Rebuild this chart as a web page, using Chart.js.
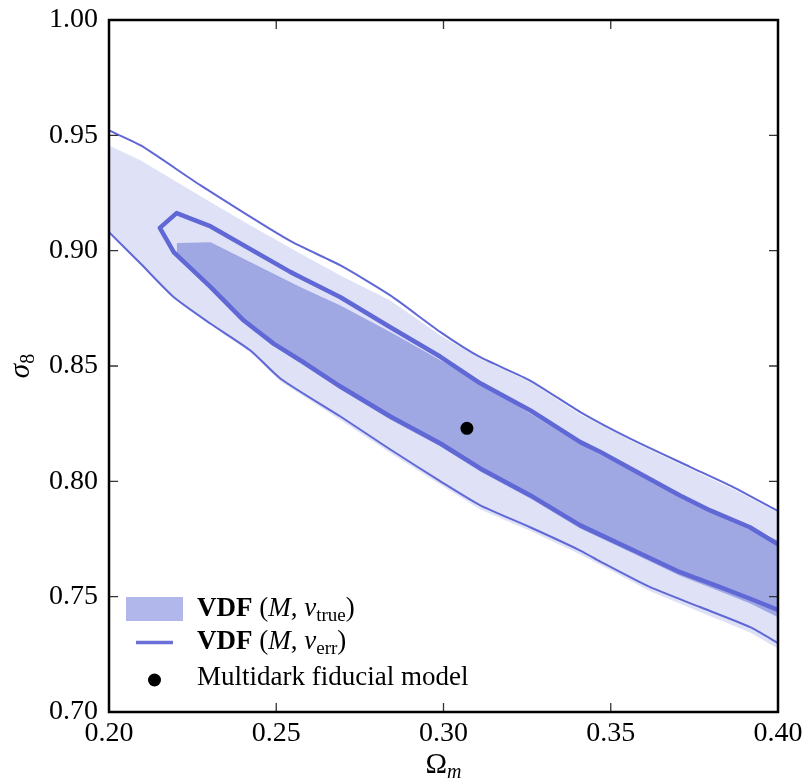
<!DOCTYPE html>
<html>
<head>
<meta charset="utf-8">
<title>sigma8 - Omega_m contours</title>
<script src="https://cdn.jsdelivr.net/npm/chart.js@4.4.0/dist/chart.umd.min.js"></script>
<style>
  html, body { margin: 0; padding: 0; background: #fff; }
  #wrap { width: 806px; height: 782px; }
</style>
</head>
<body>
<div id="wrap"><canvas id="contourChart" width="806" height="782"></canvas></div>
<script>
// Axis ticks
const xTickValues = [0.20, 0.25, 0.30, 0.35, 0.40];
const xTickLabels = ['0.20', '0.25', '0.30', '0.35', '0.40'];
const yTickValues = [0.70, 0.75, 0.80, 0.85, 0.90, 0.95, 1.00];
const yTickLabels = ['0.70', '0.75', '0.80', '0.85', '0.90', '0.95', '1.00'];

// VDF (M, v_true): outer (light) contour, upper and lower edges
const trueOuterUpperX = [0.200, 0.2095, 0.2204, 0.2304, 0.2423, 0.2573, 0.2692, 0.2841, 0.2991, 0.3110, 0.3260, 0.3409, 0.3558, 0.3738, 0.3866, 0.400];
const trueOuterUpperY = [0.9456, 0.9391, 0.9297, 0.9210, 0.9109, 0.8987, 0.8892, 0.8784, 0.8632, 0.8531, 0.8431, 0.8290, 0.8178, 0.8054, 0.7967, 0.7865];
const trueOuterLowerX = [0.200, 0.2095, 0.2194, 0.2304, 0.2423, 0.2513, 0.2692, 0.2841, 0.2991, 0.3110, 0.3260, 0.3409, 0.3618, 0.3767, 0.3917, 0.400];
const trueOuterLowerY = [0.9079, 0.8940, 0.8795, 0.8678, 0.8559, 0.8433, 0.8266, 0.8123, 0.7985, 0.7878, 0.7785, 0.7683, 0.7523, 0.7434, 0.7345, 0.7274];

// VDF (M, v_true): inner (darker) contour, traced as a closed outline
const trueInnerX = [0.2203, 0.2304, 0.2573, 0.2692, 0.2841, 0.2991, 0.3125, 0.3260, 0.3409, 0.3558, 0.3707, 0.3917, 0.4000,
                    0.4000, 0.3917, 0.3827, 0.3707, 0.3558, 0.3409, 0.3260, 0.3110, 0.2991, 0.2841, 0.2692, 0.2573, 0.2493, 0.2403, 0.2304, 0.2203];
const trueInnerY = [0.9033, 0.9037, 0.8841, 0.8762, 0.8647, 0.8525, 0.8415, 0.8293, 0.8162, 0.8047, 0.7930, 0.7796, 0.7744,
                    0.7411, 0.7470, 0.7522, 0.7591, 0.7694, 0.7796, 0.7926, 0.8043, 0.8151, 0.8268, 0.8398, 0.8511, 0.8589, 0.8691, 0.8836, 0.8992];

// VDF (M, v_err): outer contour line (upper and lower branches)
const errOuterUpperX = [0.200, 0.2095, 0.2274, 0.2543, 0.2692, 0.2841, 0.2991, 0.3110, 0.3259, 0.3409, 0.3558, 0.3738, 0.3866, 0.400];
const errOuterUpperY = [0.9521, 0.9456, 0.9283, 0.9041, 0.8936, 0.8806, 0.8647, 0.8538, 0.8437, 0.8300, 0.8185, 0.8062, 0.7975, 0.7871];
const errOuterLowerX = [0.200, 0.2095, 0.2194, 0.2304, 0.2423, 0.2513, 0.2692, 0.2841, 0.2991, 0.3110, 0.3259, 0.3409, 0.3469, 0.3618, 0.3767, 0.3917, 0.400];
const errOuterLowerY = [0.9080, 0.8943, 0.8798, 0.8683, 0.8567, 0.8445, 0.8281, 0.8138, 0.8000, 0.7896, 0.7801, 0.7700, 0.7652, 0.7541, 0.7455, 0.7368, 0.7299];

// VDF (M, v_err): inner contour line, from the right edge round the tip and back
const errInnerX = [0.4000, 0.3916, 0.3797, 0.3707, 0.3588, 0.3469, 0.3409, 0.3260, 0.3110, 0.2991, 0.2841, 0.2692, 0.2573, 0.2543, 0.2304, 0.2202, 0.2152,
                   0.2194, 0.2304, 0.2403, 0.2493, 0.2573, 0.2692, 0.2841, 0.2991, 0.3110, 0.3260, 0.3409, 0.3558, 0.3707, 0.3827, 0.3917, 0.4000];
const errInnerY = [0.7727, 0.7801, 0.7874, 0.7939, 0.8033, 0.8127, 0.8170, 0.8307, 0.8425, 0.8540, 0.8668, 0.8798, 0.8885, 0.8907, 0.9105, 0.9163, 0.9099,
                   0.8993, 0.8842, 0.8697, 0.8596, 0.8524, 0.8411, 0.8281, 0.8164, 0.8056, 0.7939, 0.7809, 0.7708, 0.7606, 0.7541, 0.7491, 0.7443];

// Multidark fiducial model
const multidarkX = [0.307];
const multidarkY = [0.823];

const SERIF = "'Liberation Serif', 'DejaVu Serif', serif";
const LINE_COLOR = '#6068d6';
const LIGHT_FILL = '#dfe2f6';
const DARK_FILL = '#a0a8e4';
const LEGEND_PATCH = '#b1b6eb';

function toPoints(xs, ys) {
    return xs.map((x, i) => ({ x: x, y: ys[i] }));
}

// upper edge left-to-right then lower edge right-to-left
function bandOutline(ux, uy, lx, ly) {
    return toPoints(ux, uy).concat(toPoints(lx, ly).reverse());
}

// draw a run of text pieces with mixed styles (bold, italic, subscript)
function drawRich(ctx, x, y, pieces, size) {
    let cx = x;
    pieces.forEach(p => {
        const s = p.sub ? Math.round(size * 0.7) : size;
        const style = (p.italic ? 'italic ' : '') + (p.bold ? 'bold ' : '');
        ctx.font = style + s + 'px ' + SERIF;
        ctx.fillText(p.t, cx, y + (p.sub ? 5 : 0));
        cx += ctx.measureText(p.t).width;
    });
    return cx - x;
}

function richWidth(ctx, pieces, size) {
    let w = 0;
    pieces.forEach(p => {
        const s = p.sub ? Math.round(size * 0.7) : size;
        const style = (p.italic ? 'italic ' : '') + (p.bold ? 'bold ' : '');
        ctx.font = style + s + 'px ' + SERIF;
        w += ctx.measureText(p.t).width;
    });
    return w;
}

const framePlugin = {
    id: 'frame',
    afterDatasetsDraw(chart) {
        const ctx = chart.ctx;
        const a = chart.chartArea;
        const xs = chart.scales.x;
        const ys = chart.scales.y;
        ctx.save();
        // inward ticks on all four sides
        ctx.strokeStyle = '#333';
        ctx.lineWidth = 1.3;
        ctx.beginPath();
        xs.ticks.forEach(t => {
            const px = xs.getPixelForValue(t.value);
            ctx.moveTo(px, a.bottom); ctx.lineTo(px, a.bottom - 9);
            ctx.moveTo(px, a.top); ctx.lineTo(px, a.top + 9);
        });
        ys.ticks.forEach(t => {
            const py = ys.getPixelForValue(t.value);
            ctx.moveTo(a.left, py); ctx.lineTo(a.left + 9, py);
            ctx.moveTo(a.right, py); ctx.lineTo(a.right - 9, py);
        });
        ctx.stroke();
        // frame
        ctx.strokeStyle = '#000';
        ctx.lineWidth = 2.5;
        ctx.strokeRect(a.left, a.top, a.right - a.left, a.bottom - a.top);
        ctx.restore();
    },
    afterDraw(chart) {
        const ctx = chart.ctx;
        const a = chart.chartArea;
        ctx.save();
        ctx.fillStyle = '#000';
        ctx.textBaseline = 'alphabetic';
        ctx.textAlign = 'left';

        // x axis title: Omega_m
        const xTitle = [{ t: 'Ω' }, { t: 'm', italic: true, sub: true }];
        const xw = richWidth(ctx, xTitle, 29);
        drawRich(ctx, (a.left + a.right) / 2 - xw / 2, 773, xTitle, 29);

        // y axis title: sigma_8, rotated
        const yTitle = [{ t: 'σ', italic: true }, { t: '8', sub: true }];
        const yw = richWidth(ctx, yTitle, 29);
        ctx.save();
        ctx.translate(29, (a.top + a.bottom) / 2);
        ctx.rotate(-Math.PI / 2);
        drawRich(ctx, -yw / 2, 0, yTitle, 29);
        ctx.restore();

        // legend
        const lx = a.left + 17;
        ctx.fillStyle = LEGEND_PATCH;
        ctx.fillRect(lx, 597, 57, 24);
        ctx.strokeStyle = '#6a70d8';
        ctx.lineWidth = 3.5;
        ctx.beginPath();
        ctx.moveTo(lx + 10, 642.5);
        ctx.lineTo(lx + 47, 642.5);
        ctx.stroke();
        ctx.fillStyle = '#000';
        ctx.beginPath();
        ctx.arc(lx + 28.5, 680, 6.5, 0, Math.PI * 2);
        ctx.fill();

        const tx = lx + 71;
        drawRich(ctx, tx, 616, [
            { t: 'VDF', bold: true }, { t: ' (' }, { t: 'M', italic: true }, { t: ', ' },
            { t: 'v', italic: true }, { t: 'true', sub: true }, { t: ')' }
        ], 27);
        drawRich(ctx, tx, 649, [
            { t: 'VDF', bold: true }, { t: ' (' }, { t: 'M', italic: true }, { t: ', ' },
            { t: 'v', italic: true }, { t: 'err', sub: true }, { t: ')' }
        ], 27);
        drawRich(ctx, tx, 685, [{ t: 'Multidark fiducial model' }], 27);
        ctx.restore();
    }
};

const noBorder = 'rgba(0,0,0,0)';

// datasets listed top-most first
const datasets = [
    {
        label: 'Multidark fiducial model',
        data: toPoints(multidarkX, multidarkY),
        showLine: false,
        pointRadius: 6.5,
        pointBackgroundColor: '#000',
        pointBorderWidth: 0
    },
    {
        label: 'VDF (M, v_err) inner',
        data: toPoints(errInnerX, errInnerY),
        showLine: true,
        borderColor: LINE_COLOR,
        borderWidth: 4.5,
        borderJoinStyle: 'round',
        pointRadius: 0,
        fill: false
    },
    {
        label: 'VDF (M, v_err) outer upper',
        data: toPoints(errOuterUpperX, errOuterUpperY),
        showLine: true,
        borderColor: LINE_COLOR,
        borderWidth: 2,
        tension: 0.2,
        pointRadius: 0,
        fill: false
    },
    {
        label: 'VDF (M, v_err) outer lower',
        data: toPoints(errOuterLowerX, errOuterLowerY),
        showLine: true,
        borderColor: LINE_COLOR,
        borderWidth: 2,
        tension: 0.2,
        pointRadius: 0,
        fill: false
    },
    {
        label: 'VDF (M, v_true) inner',
        data: toPoints(trueInnerX, trueInnerY),
        showLine: true,
        borderColor: noBorder,
        borderWidth: 0,
        backgroundColor: DARK_FILL,
        pointRadius: 0,
        fill: 'shape'
    },
    {
        label: 'VDF (M, v_true) outer',
        data: bandOutline(trueOuterUpperX, trueOuterUpperY, trueOuterLowerX, trueOuterLowerY),
        showLine: true,
        borderColor: noBorder,
        borderWidth: 0,
        backgroundColor: LIGHT_FILL,
        pointRadius: 0,
        fill: 'shape'
    }
];

new Chart(document.getElementById('contourChart'), {
    type: 'scatter',
    data: { datasets: datasets },
    options: {
        responsive: false,
        animation: false,
        events: [],
        layout: { padding: { left: 0, right: 28, top: 20, bottom: 0 } },
        plugins: {
            legend: { display: false },
            tooltip: { enabled: false }
        },
        scales: {
            x: {
                type: 'linear',
                min: 0.20,
                max: 0.40,
                afterBuildTicks: s => { s.ticks = xTickValues.map(v => ({ value: v })); },
                afterFit: s => { s.height = 70; s.paddingLeft = 0; s.paddingRight = 0; },
                grid: { display: false, drawTicks: false },
                border: { display: false },
                ticks: {
                    callback: (v, i) => xTickLabels[i],
                    color: '#000',
                    padding: 5,
                    maxRotation: 0,
                    font: { family: SERIF, size: 28 }
                }
            },
            y: {
                type: 'linear',
                min: 0.70,
                max: 1.00,
                afterBuildTicks: s => { s.ticks = yTickValues.map(v => ({ value: v })); },
                afterFit: s => { s.width = 109; s.paddingTop = 0; s.paddingBottom = 0; },
                grid: { display: false, drawTicks: false },
                border: { display: false },
                ticks: {
                    callback: (v, i) => yTickLabels[i],
                    color: '#000',
                    padding: 11,
                    font: { family: SERIF, size: 28 }
                }
            }
        }
    },
    plugins: [framePlugin]
});
</script>
</body>
</html>
